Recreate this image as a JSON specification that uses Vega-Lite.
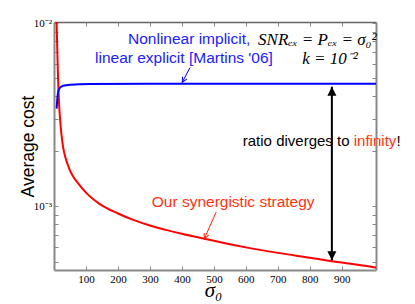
{
  "$schema": "https://vega.github.io/schema/vega-lite/v6.json",
  "width": 322,
  "height": 248,
  "autosize": "none",
  "padding": {"left": 54, "top": 22, "right": 39, "bottom": 34},
  "background": "white",
  "config": {"view": {"stroke": null}, "axis": {"grid": false}},
  "resolve": {"axis": {"x": "independent", "y": "independent"}},
  "datasets": {
    "red": [
      {"x": 8, "y": 0.0105}, {"x": 10, "y": 0.0075}, {"x": 12, "y": 0.0055}, {"x": 14, "y": 0.0043},
      {"x": 16, "y": 0.0036}, {"x": 19, "y": 0.003}, {"x": 23, "y": 0.0025}, {"x": 29, "y": 0.00208},
      {"x": 35, "y": 0.00187}, {"x": 42, "y": 0.00171}, {"x": 50, "y": 0.00157}, {"x": 62, "y": 0.00144},
      {"x": 75, "y": 0.00134}, {"x": 100, "y": 0.00119}, {"x": 140, "y": 0.00104}, {"x": 200, "y": 0.000915},
      {"x": 248, "y": 0.000845}, {"x": 300, "y": 0.000787}, {"x": 350, "y": 0.000745}, {"x": 400, "y": 0.000709},
      {"x": 470, "y": 0.000667}, {"x": 535, "y": 0.00063}, {"x": 600, "y": 0.000598}, {"x": 700, "y": 0.000558},
      {"x": 800, "y": 0.000525}, {"x": 869, "y": 0.000503}, {"x": 900, "y": 0.000494}, {"x": 1000, "y": 0.000466},
      {"x": 1010, "y": 0.000463}
    ],
    "blue": [
      {"x": 8.4, "y": 0.00342}, {"x": 10.3, "y": 0.00387}, {"x": 14, "y": 0.00428}, {"x": 18.8, "y": 0.00445},
      {"x": 29, "y": 0.00456}, {"x": 50, "y": 0.00462}, {"x": 113, "y": 0.00466}, {"x": 300, "y": 0.00467},
      {"x": 1010, "y": 0.00467}
    ]
  },
  "layer": [
    {
      "data": {"name": "red"},
      "mark": {"type": "line", "color": "#ff0000", "strokeWidth": 2, "clip": true, "interpolate": "monotone"},
      "encoding": {
        "x": {"field": "x", "type": "quantitative", "scale": {"domain": [0, 1007], "nice": false, "zero": false},
          "axis": {"orient": "bottom", "values": [100, 200, 300, 400, 500, 600, 700, 800, 900], "tickSize": -4, "tickColor": "#888", "domainColor": "#888", "domainWidth": 2,
            "labelFont": "Liberation Serif, Times New Roman, serif", "labelFontSize": 11, "labelColor": "black", "labelPadding": 7.5, "labelFlush": false, "labelOverlap": false,
            "title": "σ₀", "titleFont": "Liberation Serif, serif", "titleFontStyle": "italic", "titleFontWeight": "normal", "titleFontSize": 21, "titleColor": "black",
            "titleX": 159, "titleY": 26, "titleAlign": "center", "titleBaseline": "alphabetic"}},
        "y": {"field": "y", "type": "quantitative", "scale": {"type": "log", "domain": [0.00045, 0.01015], "nice": false},
          "axis": {"orient": "left", "values": [0.0005, 0.0006, 0.0007, 0.0008, 0.0009, 0.001, 0.002, 0.003, 0.004, 0.005, 0.006, 0.007, 0.008, 0.009, 0.01],
            "labelExpr": "abs(datum.value - 0.01) < 1e-9 ? '10⁻²' : (abs(datum.value - 0.001) < 1e-10 ? '10⁻³' : '')",
            "tickSize": -4, "tickColor": "#888", "domainColor": "#888", "domainWidth": 2,
            "labelFont": "Liberation Serif, Times New Roman, serif", "labelFontSize": 11, "labelColor": "black", "labelPadding": 6.5, "labelFlush": false, "labelOverlap": false,
            "title": "Average cost", "titleFont": "Liberation Sans", "titleFontWeight": "normal", "titleFontSize": 17.5, "titleColor": "black",
            "titleAngle": -90, "titleX": -21, "titleY": 124, "titleAlign": "center", "titleBaseline": "alphabetic"}}
      }
    },
    {
      "data": {"name": "blue"},
      "mark": {"type": "line", "color": "#0000ff", "strokeWidth": 2, "clip": true, "interpolate": "monotone"},
      "encoding": {
        "x": {"field": "x", "type": "quantitative",
          "axis": {"orient": "top", "values": [100, 200, 300, 400, 500, 600, 700, 800, 900], "labels": false, "tickSize": -4, "tickColor": "#888", "domainColor": "#666", "domainWidth": 1.5, "title": null}},
        "y": {"field": "y", "type": "quantitative",
          "axis": {"orient": "right", "values": [0.0005, 0.0006, 0.0007, 0.0008, 0.0009, 0.001, 0.002, 0.003, 0.004, 0.005, 0.006, 0.007, 0.008, 0.009, 0.01], "labels": false, "tickSize": -4, "tickColor": "#888", "domainColor": "#888", "domainWidth": 2, "title": null}}
      }
    },
    {
      "data": {"values": [{"x": 869, "y": 0.0045, "y2": 0.000508}]},
      "mark": {"type": "rule", "color": "black", "strokeWidth": 2},
      "encoding": {
        "x": {"field": "x", "type": "quantitative", "axis": null},
        "y": {"field": "y", "type": "quantitative", "axis": null},
        "y2": {"field": "y2"}
      }
    },
    {
      "data": {"values": [{"x": 869, "y": 0.0045}]},
      "mark": {"type": "point", "shape": "M0,0L-0.5,1L0.5,1Z", "size": 324, "filled": true, "color": "black", "opacity": 1, "strokeWidth": 0},
      "encoding": {
        "x": {"field": "x", "type": "quantitative", "axis": null},
        "y": {"field": "y", "type": "quantitative", "axis": null}
      }
    },
    {
      "data": {"values": [{"x": 869, "y": 0.000508}]},
      "mark": {"type": "point", "shape": "M0,0L-0.5,1L0.5,1Z", "size": 324, "filled": true, "color": "black", "opacity": 1, "strokeWidth": 0, "angle": 180},
      "encoding": {
        "x": {"field": "x", "type": "quantitative", "axis": null},
        "y": {"field": "y", "type": "quantitative", "axis": null}
      }
    },
    {
      "data": {"values": [{"x": 425.5, "y": 0.00573, "x2": 401, "y2": 0.00476}]},
      "mark": {"type": "rule", "color": "#0000ff", "strokeWidth": 1},
      "encoding": {
        "x": {"field": "x", "type": "quantitative", "axis": null},
        "y": {"field": "y", "type": "quantitative", "axis": null},
        "x2": {"field": "x2"}, "y2": {"field": "y2"}
      }
    },
    {
      "data": {"values": [{"x": 401, "y": 0.00476}]},
      "mark": {"type": "point", "shape": "M-0.5,-1L0,0L0.5,-1", "size": 100, "filled": false, "color": "#0000ff", "opacity": 1, "strokeWidth": 1, "angle": 30},
      "encoding": {
        "x": {"field": "x", "type": "quantitative", "axis": null},
        "y": {"field": "y", "type": "quantitative", "axis": null}
      }
    },
    {
      "data": {"values": [{"x": 507, "y": 0.000931, "x2": 470.3, "y2": 0.000667}]},
      "mark": {"type": "rule", "color": "#ff2200", "strokeWidth": 1},
      "encoding": {
        "x": {"field": "x", "type": "quantitative", "axis": null},
        "y": {"field": "y", "type": "quantitative", "axis": null},
        "x2": {"field": "x2"}, "y2": {"field": "y2"}
      }
    },
    {
      "data": {"values": [{"x": 470.3, "y": 0.000667}]},
      "mark": {"type": "point", "shape": "M-0.5,-1L0,0L0.5,-1", "size": 100, "filled": false, "color": "#ff2200", "opacity": 1, "strokeWidth": 1, "angle": 24},
      "encoding": {
        "x": {"field": "x", "type": "quantitative", "axis": null},
        "y": {"field": "y", "type": "quantitative", "axis": null}
      }
    },
    {
      "data": {"values": [{"x": 231.5, "y": 0.00769, "t": "Nonlinear implicit,"}, {"x": 128.3, "y": 0.0061, "t": "linear explicit [Martins '06]"}]},
      "mark": {"type": "text", "align": "left", "baseline": "alphabetic", "font": "Liberation Sans", "fontSize": 15.5, "color": "#2020ff"},
      "encoding": {
        "x": {"field": "x", "type": "quantitative", "axis": null},
        "y": {"field": "y", "type": "quantitative", "axis": null},
        "text": {"field": "t"}
      }
    },
    {
      "data": {"values": [{"x": 305.7, "y": 0.000991, "t": "Our synergistic strategy"}]},
      "mark": {"type": "text", "align": "left", "baseline": "alphabetic", "font": "Liberation Sans", "fontSize": 15.5, "color": "#ff3311"},
      "encoding": {
        "x": {"field": "x", "type": "quantitative", "axis": null},
        "y": {"field": "y", "type": "quantitative", "axis": null},
        "text": {"field": "t"}
      }
    },
    {
      "data": {"values": [{"x": 937.5, "y": 0.00215, "t": "infinity"}]},
      "mark": {"type": "text", "align": "left", "baseline": "alphabetic", "font": "Liberation Sans", "fontSize": 15, "color": "#ff3311"},
      "encoding": {
        "x": {"field": "x", "type": "quantitative", "axis": null},
        "y": {"field": "y", "type": "quantitative", "axis": null},
        "text": {"field": "t"}
      }
    },
    {
      "data": {"values": [{"x": 590.4, "y": 0.00215, "t": "ratio diverges to"}, {"x": 1071, "y": 0.00215, "t": "!"}]},
      "mark": {"type": "text", "align": "left", "baseline": "alphabetic", "font": "Liberation Sans", "fontSize": 15, "color": "black"},
      "encoding": {
        "x": {"field": "x", "type": "quantitative", "axis": null},
        "y": {"field": "y", "type": "quantitative", "axis": null},
        "text": {"field": "t"}
      }
    },
    {
      "data": {"values": [{"x": 638.3, "y": 0.00762, "t": "SNRₑₓ = Pₑₓ = σ₀²"}, {"x": 776, "y": 0.00598, "t": "k = 10⁻²"}]},
      "mark": {"type": "text", "align": "left", "baseline": "alphabetic", "font": "Liberation Serif", "fontStyle": "italic", "fontSize": 17, "color": "black"},
      "encoding": {
        "x": {"field": "x", "type": "quantitative", "axis": null},
        "y": {"field": "y", "type": "quantitative", "axis": null},
        "text": {"field": "t"}
      }
    }
  ]
}
